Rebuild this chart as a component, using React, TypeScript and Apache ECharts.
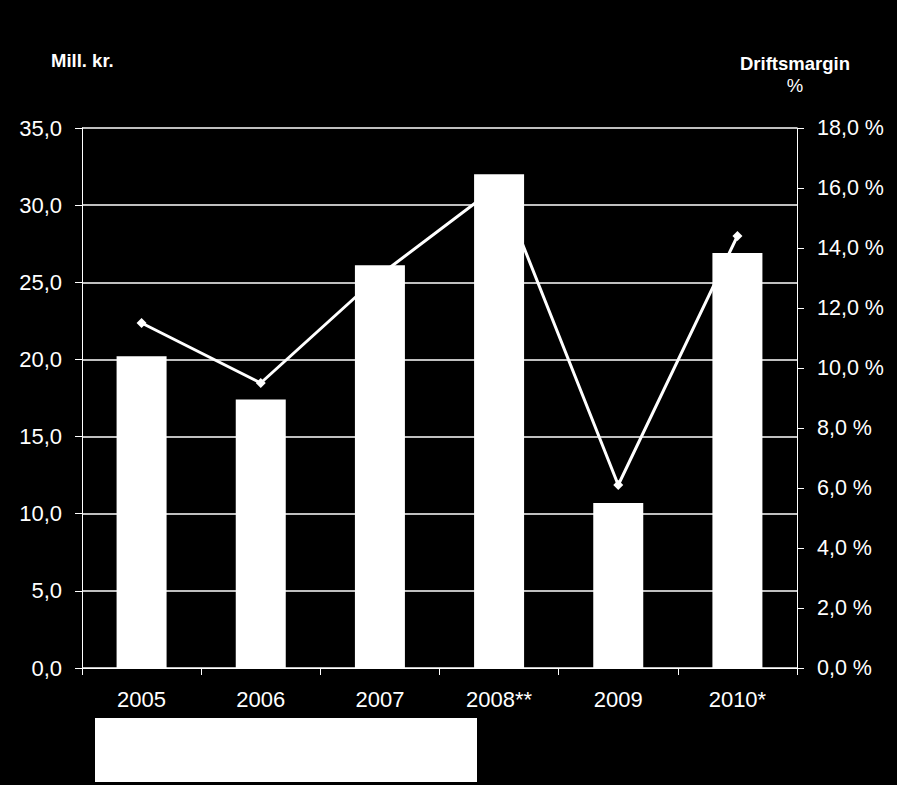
import React, { useEffect, useRef } from "react";
import * as echarts from "echarts";

const categories = ["2005", "2006", "2007", "2008**", "2009", "2010*"];
const revenue = [20.2, 17.4, 26.1, 32.0, 10.7, 26.9];
const margin = [11.5, 9.5, 13.1, 16.1, 6.1, 14.4];
const leftTitle = "Mill. kr.";
const rightTitle = ["Driftsmargin", "%"];

const fmt = (v: number) => v.toFixed(1).replace(".", ",");

export default function App() {
  const ref = useRef<HTMLDivElement>(null);
  useEffect(() => {
    if (!ref.current) return;
    const chart = echarts.init(ref.current, null, { renderer: "svg" });
    const font = "Liberation Sans, Arial, sans-serif";
    chart.setOption({
      animation: false,
      backgroundColor: "#000000",
      textStyle: { fontFamily: font },
      grid: { left: 82, right: 100, top: 128, bottom: 117, containLabel: false },
      xAxis: {
        type: "category",
        data: categories,
        boundaryGap: true,
        axisLine: { show: true, lineStyle: { color: "#ffffff", width: 1 } },
        axisTick: { show: true, alignWithLabel: false, length: 7, inside: false, lineStyle: { color: "#ffffff", width: 1 } },
        axisLabel: { color: "#ffffff", fontSize: 22, margin: 20, fontFamily: font },
        splitLine: { show: false },
      },
      yAxis: [
        {
          type: "value",
          min: 0,
          max: 35,
          interval: 5,
          position: "left",
          axisLine: { show: true, lineStyle: { color: "#ffffff", width: 1 } },
          axisTick: { show: true, length: 7, lineStyle: { color: "#ffffff", width: 1 } },
          axisLabel: { color: "#ffffff", fontSize: 22, margin: 20, formatter: (v: number) => fmt(v), fontFamily: font },
          splitLine: { show: true, lineStyle: { color: "#ffffff", width: 1.5 } },
        },
        {
          type: "value",
          min: 0,
          max: 18,
          interval: 2,
          position: "right",
          axisLine: { show: true, lineStyle: { color: "#ffffff", width: 1 } },
          axisTick: { show: true, length: 7, lineStyle: { color: "#ffffff", width: 1 } },
          axisLabel: { color: "#ffffff", fontSize: 21.5, margin: 20, formatter: (v: number) => fmt(v) + " %", fontFamily: font },
          splitLine: { show: false },
        },
      ],
      series: [
        {
          type: "line",
          yAxisIndex: 1,
          data: margin,
          z: 1,
          symbol: "diamond",
          symbolSize: 10,
          lineStyle: { color: "#ffffff", width: 3 },
          itemStyle: { color: "#ffffff" },
        },
        {
          type: "bar",
          yAxisIndex: 0,
          data: revenue,
          z: 3,
          barWidth: 50,
          itemStyle: { color: "#ffffff" },
        },
      ],
      graphic: [
        {
          type: "text",
          x: 51,
          y: 51,
          style: { text: leftTitle, fill: "#ffffff", font: `bold 18.5px ${font}` },
        },
        {
          type: "text",
          x: 795,
          y: 54,
          style: { text: rightTitle[0], fill: "#ffffff", font: `bold 18.5px ${font}`, textAlign: "center" },
        },
        {
          type: "text",
          x: 795,
          y: 76,
          style: { text: rightTitle[1], fill: "#ffffff", font: `18.5px ${font}`, textAlign: "center" },
        },
        {
          type: "rect",
          shape: { x: 95, y: 718, width: 382, height: 64 },
          style: { fill: "#ffffff" },
        },
      ],
    });
    return () => chart.dispose();
  }, []);
  return (
    <div
      ref={ref}
      style={{ position: "fixed", left: 0, top: 0, width: 897, height: 785, background: "#000" }}
    />
  );
}
